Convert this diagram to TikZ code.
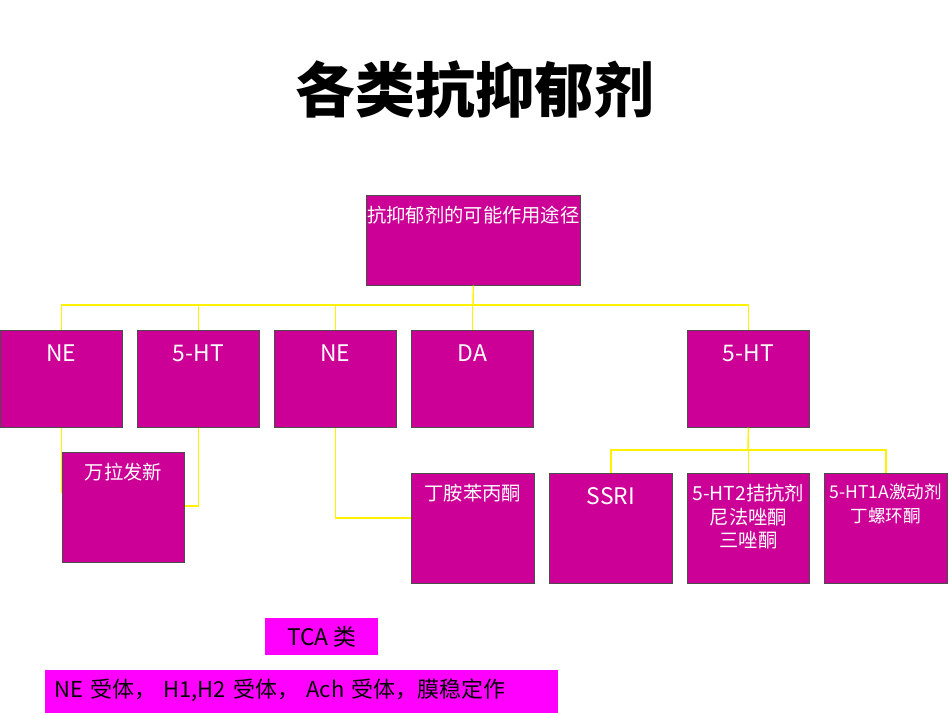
\documentclass[tikz,border=0pt]{standalone}
\usepackage{fontspec}
\setmainfont{Liberation Sans}
\newfontfamily\cjk{Noto Sans CJK SC}
\usetikzlibrary{positioning}
\definecolor{plum}{RGB}{204,0,150}
\definecolor{pinkbg}{RGB}{255,0,255}
\begin{document}
\begin{tikzpicture}[x=0.02cm,y=-0.02cm]
\tikzstyle{box}=[draw=black!70, fill=plum, text=white, anchor=north west,
	inner sep=0pt, align=center, font=\cjk\fontsize{11}{13.5}\selectfont]
\tikzstyle{link}=[draw=yellow, thick]
\useasboundingbox (0,0) rectangle (950,713);
\clip (0,0) rectangle (950,713);
\node[font=\cjk\bfseries\fontsize{34}{40}\selectfont] (title) at (475,90) {各类抗抑郁剂};
% top box
\node[box,minimum width=214*0.02cm,minimum height=90*0.02cm] (top) at (366,195) {};
\node[box,draw=none,fill=none,anchor=north] at (top.north) [yshift=-6pt] {抗抑郁剂的可能作用途径};
% first row
\foreach \x/\name/\txt in {0/ne1/NE, 137/ht1/5-HT, 274/ne2/NE, 411/da/DA, 687/ht2/5-HT} {
	\node[box,minimum width=122*0.02cm,minimum height=97*0.02cm] (\name) at (\x,330) {};
	\node[box,draw=none,fill=none,anchor=north,font=\cjk\fontsize{13}{15}\selectfont] at (\name.north) [yshift=-8pt] {\txt};
}
% second row
\node[box,minimum width=122*0.02cm,minimum height=110*0.02cm] (vfx) at (62,452) {};
\node[box,draw=none,fill=none,anchor=north] at (vfx.north) [yshift=-6pt] {万拉发新};
\node[box,minimum width=123*0.02cm,minimum height=110*0.02cm] (bup) at (411,473) {};
\node[box,draw=none,fill=none,anchor=north] at (bup.north) [yshift=-6pt] {丁胺苯丙酮};
\node[box,minimum width=123*0.02cm,minimum height=110*0.02cm] (ssri) at (549,473) {};
\node[box,draw=none,fill=none,anchor=north,font=\cjk\fontsize{13}{15}\selectfont] at (ssri.north) [yshift=-8pt] {SSRI};
\node[box,minimum width=122*0.02cm,minimum height=110*0.02cm] (ht2a) at (687,473) {};
\node[box,draw=none,fill=none,anchor=north] at (ht2a.north) [yshift=-6pt] {5-HT2拮抗剂\\尼法唑酮\\三唑酮};
\node[box,minimum width=123*0.02cm,minimum height=110*0.02cm] (ht1a) at (824,473) {};
\node[box,draw=none,fill=none,anchor=north,font=\cjk\fontsize{10}{13.5}\selectfont] at (ht1a.north) [yshift=-6pt] {5-HT1A激动剂\\丁螺环酮};
% connectors
\coordinate (bus) at (473,305);
\draw[link] (top.south) -- (bus);
\foreach \n in {ne1,ht1,ne2,da,ht2}
	\draw[link] (bus) -| (\n.north);
\draw[link] (ne1.south) |- (vfx.west |- 0,492);
\draw[link] (ht1.south) |- (vfx.east |- 0,506);
\draw[link] (ne2.south) |- (bup.west |- 0,518);
\coordinate (bus2) at (748,450);
\draw[link] (ht2.south) -- (bus2);
\foreach \n in {ssri,ht2a,ht1a}
	\draw[link] (bus2) -| (\n.north);
% TCA notes
\node[fill=pinkbg,anchor=north west,minimum width=113*0.02cm,minimum height=37*0.02cm,
	font=\cjk\fontsize{13}{15}\selectfont] (tca) at (265,618) {TCA 类};
\node[fill=pinkbg,anchor=north west,text width=495*0.02cm,inner sep=5pt,align=left,
	font=\cjk\fontsize{12.5}{22}\selectfont] (rec) at (45,670) {NE 受体， H1,H2 受体， Ach 受体，膜稳定作\\用};
\end{tikzpicture}
\end{document}
